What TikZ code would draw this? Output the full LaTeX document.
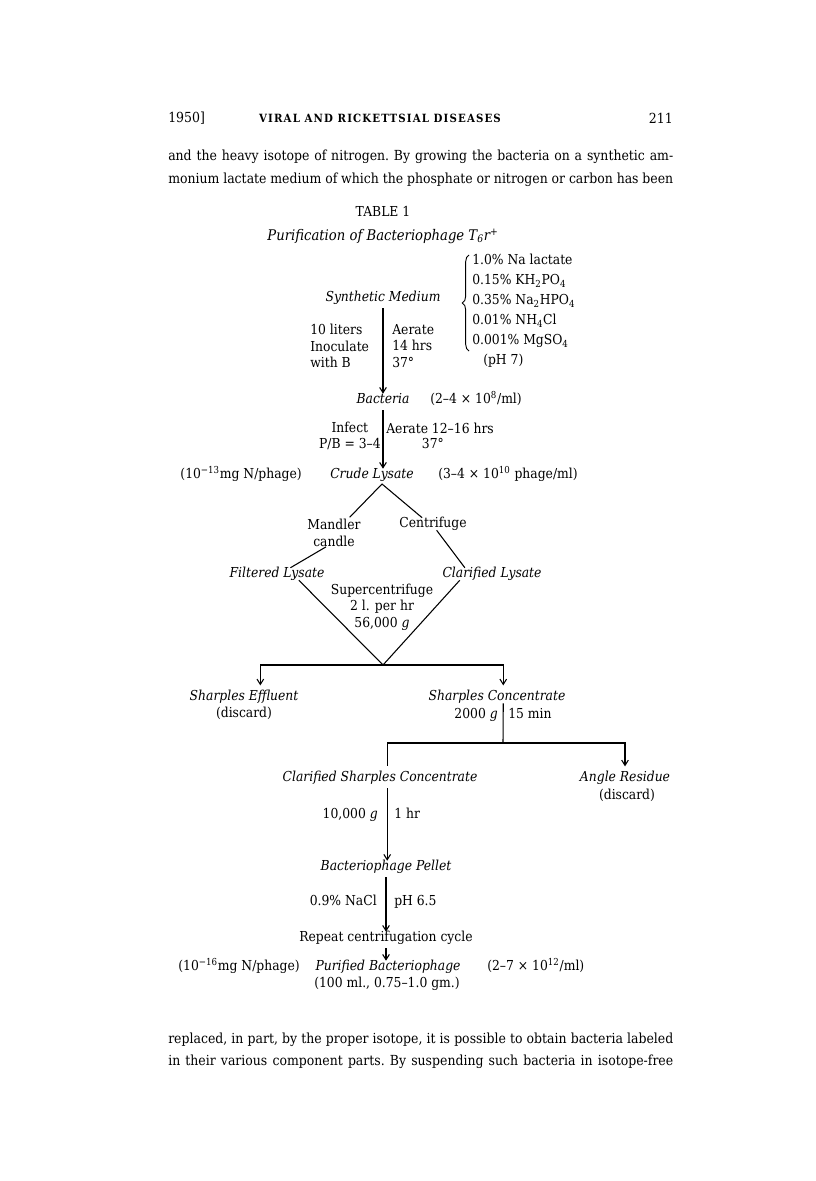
\documentclass[tikz,border=0pt]{standalone}
\usepackage{fontspec}
\setmainfont[FakeStretch=0.9]{DejaVu Serif}
\usetikzlibrary{arrows.meta,positioning,decorations.pathreplacing}

\newcommand{\tabsize}{\fontsize{10.3}{12.4}\selectfont}
\newcommand{\compsize}{\fontsize{10.3}{15}\selectfont}
\newcommand{\bodysize}{\fontsize{10.4}{13}\selectfont\frenchspacing}

\begin{document}
\begin{tikzpicture}[x=0.75pt,y=-0.75pt,
  stage/.style={font=\tabsize\itshape, inner sep=0pt, text height=7pt, text depth=2pt},
  note/.style={font=\tabsize, inner sep=0pt, text height=7pt, text depth=2pt},
  block/.style={font=\tabsize, inner sep=0pt, align=center},
  bodyline/.style={font=\bodysize, anchor=west, inner sep=0pt},
  arr/.style={-{Straight Barb[length=4pt,width=5pt]}, line width=0.8pt, shorten <=3pt},
  ln/.style={line width=0.8pt}
]
\useasboundingbox (0,0) rectangle (816,1181);

% ======= Page head and text =======
\node[bodyline] (year) at (168,118) {1950]};
\node[font=\fontsize{8.5}{10}\selectfont\bfseries\addfontfeature{LetterSpace=10}, inner sep=0pt] (runhead) at (380,118) {VIRAL AND RICKETTSIAL DISEASES};
\node[font=\bodysize, anchor=east, inner sep=0pt] (page) at (673,118) {211};
\node[bodyline] (top1) at (168,157) {\makebox[378.75pt][s]{and the heavy isotope of nitrogen. By growing the bacteria on a synthetic am-}};
\node[bodyline] (top2) at (168,180) {\makebox[378.75pt][s]{monium lactate medium of which the phosphate or nitrogen or carbon has been}};

% ======= Table head =======
\node[note] (tabno) at (383,213) {TABLE 1};
\node[stage, font=\fontsize{11}{13}\selectfont\itshape] (title) at (383,237) {Purification of Bacteriophage T\textsubscript{6}r\textsuperscript{+}};

% ======= Medium and bacteria =======
\node[stage] (synth) at (383,298) {Synthetic Medium};
\node[font=\compsize, align=left, anchor=north west, inner sep=0pt] (comp) at (472,254)
  {1.0\% Na lactate\\0.15\% KH\textsubscript{2}PO\textsubscript{4}\\0.35\% Na\textsubscript{2}HPO\textsubscript{4}\\
   0.01\% NH\textsubscript{4}Cl\\0.001\% MgSO\textsubscript{4}\\\hspace*{0.8em}(pH 7)};
\draw[line width=0.7pt, decorate, decoration={brace, amplitude=5pt}]
  ([shift={(-3,97)}]comp.north west) -- ([shift={(-3,1)}]comp.north west);
\node[block, align=left, anchor=west] (inoc) at (310,346) {10 liters\\Inoculate\\with B};
\node[block, align=left, anchor=west] (aer1) at (392,346) {Aerate\\14 hrs\\37°};
\node[stage] (bact) at (383,400) {Bacteria};
\node[note, anchor=west] (bdens) at (430,400) {(2–4 × 10\textsuperscript{8}/ml)};

% ======= Lysate =======
\node[block, anchor=east, font=\fontsize{10.3}{11.5}\selectfont] (infect) at (381,436) {Infect\\P/B = 3–4};
\node[block, align=left, anchor=west, font=\fontsize{10.3}{11.5}\selectfont] (aer2) at (386,436) {Aerate 12–16 hrs\\\hspace*{2.6em}37°};
\node[stage] (crude) at (372,475) {Crude Lysate};
\node[note, anchor=east] (nlo) at (302,475) {(10\textsuperscript{−13}mg N/phage)};
\node[note, anchor=west] (nhi) at (438,475) {(3–4 × 10\textsuperscript{10} phage/ml)};
\coordinate (apex) at (382,484);

\node[block] (mandler) at (334,533) {Mandler\\candle};
\node[note] (centri) at (433,524) {Centrifuge};
\node[stage] (filt) at (277,574) {Filtered Lysate};
\node[stage] (clar) at (492,574) {Clarified Lysate};
\node[block] (superc) at (382,607) {Supercentrifuge\\2 l. per hr\\56,000 \textit{g}};
\coordinate (vtip) at (383,665);

% ======= Sharples =======
\node[stage] (effl) at (244,697) {Sharples Effluent};
\node[note] (disc1) at (244,714) {(discard)};
\node[stage] (conc) at (497,697) {Sharples Concentrate};
\node[note, anchor=east] (g2k) at (498,715) {2000 \textit{g}};
\node[note, anchor=west] (min15) at (508,715) {15 min};
\coordinate (split) at (503,743);
\node[stage] (csc) at (380,778) {Clarified Sharples Concentrate};
\node[stage] (angle) at (625,778) {Angle Residue};
\node[note] (disc2) at (627,796) {(discard)};

% ======= Pellet and product =======
\node[note, anchor=east] (g10k) at (378,815) {10,000 \textit{g}};
\node[note, anchor=west] (hr1) at (394,815) {1 hr};
\node[stage] (pellet) at (386,867) {Bacteriophage Pellet};
\node[note, anchor=east] (nacl) at (377,902) {0.9\% NaCl};
\node[note, anchor=west] (ph) at (394,902) {pH 6.5};
\node[note] (repeat) at (386,938) {Repeat centrifugation cycle};
\node[stage] (pure) at (388,967) {Purified Bacteriophage};
\node[note, anchor=east] (plo) at (300,967) {(10\textsuperscript{−16}mg N/phage)};
\node[note, anchor=west] (phi) at (487,967) {(2–7 × 10\textsuperscript{12}/ml)};
\node[note] (yield) at (387,984) {(100 ml., 0.75–1.0 gm.)};

\node[bodyline] (bot1) at (168,1040) {\makebox[378.75pt][s]{replaced, in part, by the proper isotope, it is possible to obtain bacteria labeled}};
\node[bodyline] (bot2) at (168,1062) {\makebox[378.75pt][s]{in their various component parts. By suspending such bacteria in isotope-free}};

% ======= Connections =======
\draw[arr] (synth.south) -- (synth.south |- bact.north);
\draw[arr] (bact.south) -- (bact.south |- crude.north);
\draw[ln, shorten <=2pt] (mandler.45) -- (apex) -- (centri.150);
\draw[ln] (mandler.240) -- (filt.25);
\draw[ln] (centri.-60) -- (clar.167);
\draw[ln] (filt.-16) -- (vtip) -- (clar.-169);
\draw[arr, shorten <=0pt, shorten >=4pt] (vtip) -| (effl.21);
\draw[arr, shorten <=0pt, shorten >=4pt] (vtip) -| (conc.45);
\draw[ln] (conc.-45) -- (split);
\draw[ln, shorten >=4pt] (split) -| (csc.41);
\draw[arr, shorten <=0pt, shorten >=4pt] (split) -| (angle.north);
\draw[arr] (csc.-41) -- (csc.-41 |- pellet.north);
\draw[arr] (pellet.south) -- (pellet.south |- repeat.north);
\draw[arr] (repeat.south) -- (repeat.south |- pure.north);

\end{tikzpicture}
\end{document}
